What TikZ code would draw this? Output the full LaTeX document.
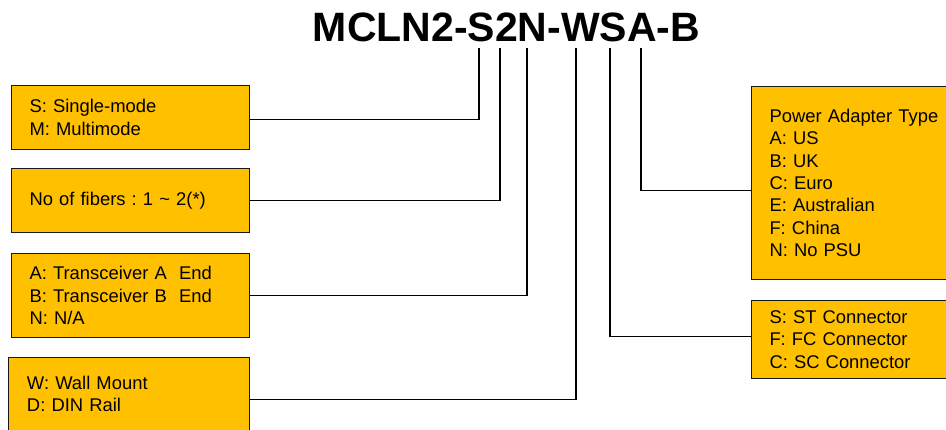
\documentclass[tikz,border=0pt]{standalone}
\usepackage{fontspec}
\setmainfont{Liberation Sans}
\definecolor{boxorange}{HTML}{FFC000}
\frenchspacing

\begin{document}
\begin{tikzpicture}[x=1pt,y=-1pt,
  codebox/.style={draw=black!90,line width=1pt,fill=boxorange,anchor=north west,
    inner xsep=18pt,inner ysep=0pt,align=left,font=\fontsize{18.4}{22.3}\selectfont},
  leader/.style={draw=black,line width=1.3pt}]
\useasboundingbox (0,0) rectangle (946,430);
\node[anchor=base,inner sep=0pt,font=\fontsize{41}{48}\bfseries\selectfont] (code) at (506.5,42) {MCLN2-S2N-WSA-B};
% top ends of the leaders, under the letters of the code
\coordinate (cMode) at (479,48);
\coordinate (cFiber) at (500,48);
\coordinate (cEnd) at (527,48);
\coordinate (cMount) at (576,48);
\coordinate (cConn) at (610,48);
\coordinate (cPower) at (641,48);
% left column
\node[codebox,text width=202pt,minimum height=64pt] (mode) at (11,85) {S: Single-mode\\M: Multimode};
\node[codebox,text width=202pt,minimum height=64pt] (fiber) at (11,168) {No of fibers : 1 \textasciitilde{} 2(*)};
\node[codebox,text width=202pt,minimum height=84pt] (tend) at (11,253) {A: Transceiver A\ \ End\\B: Transceiver B\ \ End\\N: N/A};
\node[codebox,text width=204pt,minimum height=73pt,inner xsep=18.5pt] (mount) at (8,357) {W: Wall Mount\\D: DIN Rail};
% right column
\node[codebox,text width=174pt,minimum height=193pt] (power) at (751,86) {Power Adapter Type\\A: US\\B: UK\\C: Euro\\E: Australian\\F: China\\N: No PSU};
\node[codebox,text width=174pt,minimum height=78pt] (conn) at (751,300) {S: ST Connector\\F: FC Connector\\C: SC Connector};
% leaders
\draw[leader] ([yshift=-2pt]mode.east) -| (cMode);
\draw[leader] (fiber.east) -| (cFiber);
\draw[leader] (tend.east) -| (cEnd);
\draw[leader] ([yshift=-5.5pt]mount.east) -| (cMount);
\draw[leader] ([yshift=3pt]conn.west) -| (cConn);
\draw[leader] ([yshift=-7.5pt]power.west) -| (cPower);
\end{tikzpicture}
\end{document}
